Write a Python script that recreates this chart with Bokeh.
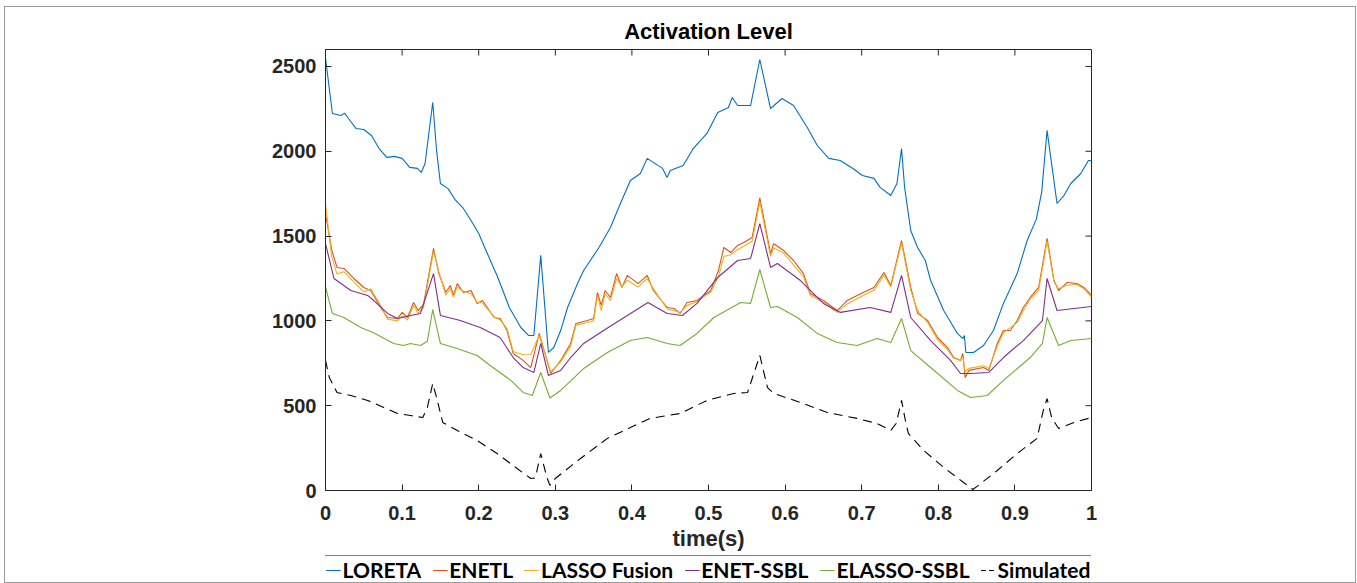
from bokeh.plotting import figure
from bokeh.layouts import column
from bokeh.models import Range1d, Legend, LegendItem, FixedTicker, NumeralTickFormatter
from bokeh.embed import file_html
from bokeh.resources import INLINE

# ---------------- data ----------------
x_ticks = [0, 0.1, 0.2, 0.3, 0.4, 0.5, 0.6, 0.7, 0.8, 0.9, 1.0]
y_ticks = [0, 500, 1000, 1500, 2000, 2500]

t_loreta = [0, 0.009, 0.02, 0.025, 0.03, 0.04, 0.05, 0.06, 0.07, 0.08,
            0.09, 0.10, 0.11, 0.12, 0.125, 0.13, 0.14, 0.145, 0.15, 0.16,
            0.17, 0.18, 0.19, 0.20, 0.21, 0.225, 0.24, 0.255, 0.265, 0.272,
            0.281, 0.291, 0.298, 0.307, 0.316, 0.329, 0.337, 0.357, 0.372, 0.385,
            0.398, 0.411, 0.420, 0.44, 0.446, 0.45, 0.467, 0.48, 0.498, 0.512,
            0.526, 0.531, 0.538, 0.555, 0.567, 0.581, 0.596, 0.611, 0.629, 0.642,
            0.657, 0.672, 0.688, 0.701, 0.716, 0.724, 0.738, 0.746, 0.752, 0.756,
            0.764, 0.773, 0.783, 0.79, 0.807, 0.825, 0.832, 0.834, 0.836, 0.846,
            0.859, 0.872, 0.885, 0.903, 0.916, 0.928, 0.935, 0.942, 0.955, 0.964,
            0.973, 0.986, 0.996, 1.0]
v_loreta = [2550, 2223, 2211, 2225, 2193, 2134, 2128, 2093, 2016, 1964,
            1970, 1958, 1905, 1899, 1875, 1928, 2288, 2005, 1810, 1780,
            1710, 1663, 1592, 1515, 1410, 1256, 1079, 961, 914, 914,
            1386, 814, 843, 943, 1079, 1220, 1297, 1433, 1551, 1692,
            1828, 1869, 1958, 1899, 1846, 1887, 1916, 2016, 2105, 2229,
            2258, 2317, 2270, 2270, 2541, 2252, 2311, 2270, 2140, 2034,
            1958, 1946, 1900, 1857, 1840, 1787, 1739, 1810, 2016, 1787,
            1533, 1433, 1356, 1238, 1061, 926, 896, 914, 814, 814,
            855, 943, 1103, 1279, 1474, 1600, 1760, 2123, 1692, 1739,
            1810, 1869, 1946, 1946]

t_enetl = [0, 0.008, 0.015, 0.024, 0.037, 0.05, 0.059, 0.072, 0.081, 0.094,
           0.1, 0.107, 0.115, 0.121, 0.128, 0.141, 0.148, 0.157, 0.163, 0.167,
           0.172, 0.18, 0.19, 0.198, 0.205, 0.22, 0.228, 0.237, 0.245, 0.258,
           0.268, 0.279, 0.294, 0.307, 0.320, 0.327, 0.342, 0.350, 0.355, 0.360,
           0.365, 0.372, 0.38, 0.387, 0.394, 0.408, 0.42, 0.428, 0.446, 0.455,
           0.463, 0.472, 0.485, 0.503, 0.513, 0.52, 0.529, 0.538, 0.546, 0.557,
           0.567, 0.581, 0.585, 0.598, 0.611, 0.624, 0.633, 0.650, 0.668, 0.681,
           0.702, 0.716, 0.729, 0.738, 0.752, 0.764, 0.773, 0.786, 0.799, 0.812,
           0.82, 0.829, 0.832, 0.835, 0.84, 0.859, 0.866, 0.877, 0.885, 0.894,
           0.903, 0.911, 0.92, 0.931, 0.942, 0.951, 0.957, 0.968, 0.981, 0.99, 1.0]
v_enetl = [1633, 1420, 1315, 1309, 1250, 1197, 1179, 1079, 1020, 1014,
           1050, 1020, 1108, 1061, 1097, 1427, 1279, 1167, 1209, 1150,
           1220, 1167, 1179, 1103, 1120, 1020, 1014, 943, 808, 767,
           725, 926, 690, 767, 867, 985, 1002, 1014, 1167, 1091,
           1179, 1138, 1279, 1197, 1268, 1220, 1268, 1179, 1079, 1073,
           1044, 1108, 1120, 1179, 1297, 1433, 1403, 1445, 1462, 1492,
           1725, 1397, 1456, 1415, 1356, 1279, 1162, 1120, 1061, 1120,
           1167, 1197, 1285, 1209, 1474, 1197, 1044, 1002, 902, 843,
           784, 767, 808, 666, 708, 725, 708, 867, 943, 943,
           1002, 1079, 1138, 1197, 1486, 1238, 1179, 1226, 1220, 1197, 1150]

t_fusion = t_enetl
v_fusion = [1690, 1380, 1276, 1290, 1230, 1170, 1190, 1090, 1010, 1000,
            1030, 1005, 1090, 1045, 1080, 1410, 1290, 1150, 1190, 1140,
            1200, 1175, 1160, 1110, 1105, 1025, 1005, 955, 820, 800,
            802, 915, 700, 760, 850, 975, 990, 1000, 1150, 1060,
            1160, 1120, 1250, 1200, 1240, 1200, 1250, 1190, 1070, 1060,
            1050, 1090, 1115, 1170, 1260, 1380, 1390, 1420, 1440, 1470,
            1700, 1380, 1430, 1400, 1330, 1260, 1150, 1110, 1050, 1100,
            1150, 1180, 1270, 1200, 1460, 1180, 1060, 990, 890, 830,
            780, 770, 790, 700, 720, 735, 720, 850, 930, 960,
            990, 1060, 1130, 1180, 1470, 1230, 1190, 1210, 1215, 1190, 1140]

t_enet_ssbl = [0, 0.011, 0.033, 0.055, 0.063, 0.081, 0.094, 0.111, 0.124, 0.141,
               0.150, 0.176, 0.202, 0.228, 0.245, 0.258, 0.272, 0.281, 0.291, 0.307,
               0.320, 0.337, 0.363, 0.394, 0.421, 0.446, 0.466, 0.485, 0.512, 0.538,
               0.555, 0.567, 0.581, 0.590, 0.620, 0.650, 0.672, 0.711, 0.738, 0.752,
               0.764, 0.79, 0.816, 0.829, 0.842, 0.866, 0.885, 0.911, 0.936, 0.942,
               0.955, 0.977, 1.0]
v_enet_ssbl = [1456, 1250, 1179, 1150, 1120, 1044, 1014, 1032, 1044, 1279,
               1032, 1002, 961, 902, 784, 725, 696, 867, 678, 708,
               784, 867, 943, 1032, 1108, 1044, 1032, 1103, 1256, 1356,
               1368, 1574, 1315, 1338, 1238, 1103, 1050, 1079, 1050, 1268,
               1020, 884, 767, 690, 690, 696, 784, 884, 1002, 1250,
               1061, 1073, 1085]

t_elasso_ssbl = [0, 0.009, 0.024, 0.046, 0.062, 0.089, 0.102, 0.111, 0.124, 0.133,
                 0.140, 0.150, 0.172, 0.198, 0.215, 0.242, 0.258, 0.270, 0.281, 0.293,
                 0.307, 0.337, 0.368, 0.398, 0.420, 0.446, 0.463, 0.485, 0.507, 0.542,
                 0.555, 0.567, 0.581, 0.590, 0.616, 0.642, 0.668, 0.694, 0.72, 0.738,
                 0.752, 0.764, 0.79, 0.825, 0.842, 0.864, 0.885, 0.920, 0.936, 0.942,
                 0.957, 0.973, 1.0]
v_elasso_ssbl = [1200, 1044, 1020, 961, 932, 867, 855, 867, 855, 880,
                 1067, 867, 837, 796, 737, 649, 578, 560, 696, 545,
                 590, 719, 814, 884, 902, 867, 855, 926, 1020, 1108,
                 1103, 1303, 1079, 1085, 1020, 926, 873, 855, 896, 873,
                 1014, 825, 725, 590, 548, 560, 649, 784, 867, 1020,
                 855, 884, 896]

t_sim = [0, 0.005, 0.015, 0.033, 0.055, 0.076, 0.094, 0.111, 0.127, 0.133,
         0.14, 0.146, 0.153, 0.172, 0.198, 0.224, 0.25, 0.268, 0.274, 0.281,
         0.289, 0.293, 0.30, 0.333, 0.368, 0.398, 0.424, 0.463, 0.498, 0.533,
         0.551, 0.567, 0.577, 0.585, 0.620, 0.655, 0.694, 0.72, 0.738, 0.745,
         0.752, 0.757, 0.761, 0.781, 0.807, 0.833, 0.845, 0.852, 0.877, 0.903,
         0.929, 0.937, 0.942, 0.948, 0.957, 0.977, 1.0]
v_sim = [767, 666, 578, 560, 531, 490, 454, 442, 430, 490,
         631, 531, 401, 354, 295, 218, 130, 71, 74, 218,
         77, 30, 71, 189, 307, 371, 425, 454, 531, 572,
         578, 796, 607, 572, 519, 460, 425, 395, 354, 395,
         531, 413, 336, 236, 136, 47, 6, 29, 118, 218,
         307, 472, 542, 430, 366, 401, 430]

series_names = ["LORETA", "ENETL", "LASSO Fusion", "ENET-SSBL", "ELASSO-SSBL", "Simulated"]
series_colors = ["#0072BD", "#D95319", "#EDB120", "#7E2F8E", "#77AC30", "#000000"]

# ---------------- main figure ----------------
FONT = "Liberation Sans"
X0, X1, Y0, Y1 = 0, 1, 0, 2600
FRAME_W, FRAME_H = 766, 441
p = figure(width=1350, height=546, output_backend="svg", toolbar_location=None,
           x_range=Range1d(X0, X1), y_range=Range1d(Y0, Y1),
           min_border_left=320, min_border_right=264, min_border_top=42, min_border_bottom=63,
           title="Activation Level")
p.background_fill_color = "white"
p.border_fill_color = "white"
p.outline_line_color = "#262626"
p.outline_line_width = 1
p.grid.visible = False

p.title.align = "center"
p.title.text_font = FONT
p.title.text_font_size = "22px"
p.title.text_font_style = "bold"
p.title.text_color = "#000000"
p.title.standoff = 11

for ax in (p.xaxis[0], p.yaxis[0]):
    ax.major_tick_in = 6
    ax.major_tick_out = 0
    ax.minor_tick_line_color = None
    ax.axis_line_color = "#262626"
    ax.major_tick_line_color = "#262626"
    ax.major_label_text_font = FONT
    ax.major_label_text_font_style = "bold"
    ax.major_label_text_font_size = "20px"
    ax.major_label_text_color = "#262626"

p.xaxis.ticker = FixedTicker(ticks=x_ticks)
p.xaxis.formatter = NumeralTickFormatter(format="0.[0]")
p.xaxis.major_label_standoff = 15
p.xaxis.axis_label = "time(s)"
p.xaxis.axis_label_text_font = FONT
p.xaxis.axis_label_text_font_style = "bold"
p.xaxis.axis_label_text_font_size = "22px"
p.xaxis.axis_label_text_color = "#262626"
p.xaxis.axis_label_standoff = 3

p.yaxis.ticker = FixedTicker(ticks=y_ticks)
p.yaxis.major_label_standoff = 9

# mirrored inward ticks on the top and right edges of the box (6 px long)
tick_dx = 6 / FRAME_W * (X1 - X0)
tick_dy = 6 / FRAME_H * (Y1 - Y0)
p.segment(x0=x_ticks, y0=[Y1] * len(x_ticks), x1=x_ticks, y1=[Y1 - tick_dy] * len(x_ticks),
          line_color="#262626", line_width=1)
p.segment(x0=[X1] * len(y_ticks), y0=y_ticks, x1=[X1 - tick_dx] * len(y_ticks), y1=y_ticks,
          line_color="#262626", line_width=1)

all_t = [t_loreta, t_enetl, t_fusion, t_enet_ssbl, t_elasso_ssbl, t_sim]
all_v = [v_loreta, v_enetl, v_fusion, v_enet_ssbl, v_elasso_ssbl, v_sim]
for name, col, tt, vv in zip(series_names, series_colors, all_t, all_v):
    if name == "Simulated":
        p.line(tt, vv, line_color=col, line_width=1.1, line_dash="9 6")
    else:
        p.line(tt, vv, line_color=col, line_width=1.1)

# ---------------- legend strip (same series, ranges set so only the key shows) ----------------
lg = figure(width=1350, height=29, output_backend="svg", toolbar_location=None,
            x_range=Range1d(5, 6), y_range=Range1d(5, 6),
            min_border_left=56, min_border_right=0, min_border_top=0, min_border_bottom=0)
lg.axis.visible = False
lg.grid.visible = False
lg.outline_line_color = None
lg.background_fill_color = "white"
lg.border_fill_color = "white"
lg_renderers = []
for name, col, tt, vv in zip(series_names, series_colors, all_t, all_v):
    if name == "Simulated":
        r = lg.line(tt, vv, line_color=col, line_width=1.2, line_dash="5 3")
    else:
        r = lg.line(tt, vv, line_color=col, line_width=1.2)
    lg_renderers.append(r)

legend = Legend(items=[LegendItem(label=n, renderers=[r]) for n, r in zip(series_names, lg_renderers)],
                location="top_center", orientation="horizontal")
legend.border_line_color = "#000000"
legend.border_line_width = 1
legend.background_fill_color = "white"
legend.background_fill_alpha = 1
legend.label_text_font = "Lato"
legend.label_text_font_style = "bold"
legend.label_text_font_size = "21px"
legend.label_text_color = "#000000"
legend.glyph_width = 15
legend.glyph_height = 18
legend.label_standoff = 2
legend.spacing = 11
legend.padding = 1
legend.margin = 2
lg.add_layout(legend, "center")

layout = column(p, lg, spacing=0,
                styles={"border": "1px solid #9a9a9a", "margin-left": "4px", "margin-top": "6px"})

open("out.html", "w").write(file_html(layout, INLINE))
